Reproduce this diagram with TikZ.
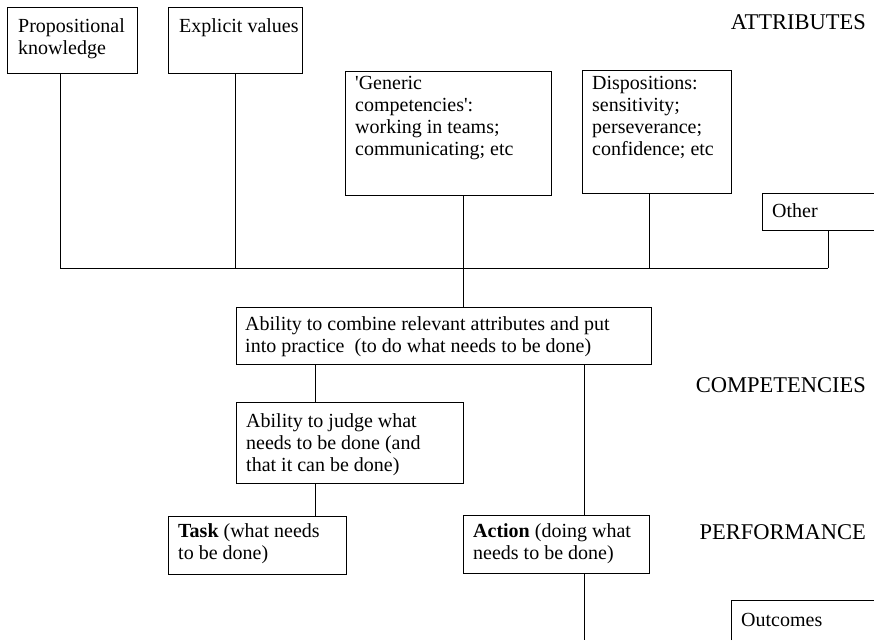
\documentclass[tikz,border=0pt]{standalone}
\usepackage{fontspec}
\setmainfont{Liberation Serif}
\newfontfamily\qfont{Liberation Serif}
\newcommand\sq{{\qfont\char39}}
\usetikzlibrary{fit}
\begin{document}
\begin{tikzpicture}[x=1pt,y=-1pt,
  box/.style={draw, line width=1pt, inner sep=0pt},
  txt/.style={anchor=north west, align=left, inner sep=0pt, font=\fontsize{20}{22}\selectfont},
  lab/.style={anchor=base east, inner sep=0pt, font=\fontsize{22.5}{24}\selectfont},
  conn/.style={line width=1pt}]
\useasboundingbox (0,0) rectangle (874,640);

% boxes
\node[box, fit={(7,7) (137,73)}] (prop) {};
\node[box, fit={(168,7) (302,73)}] (expl) {};
\node[box, fit={(345,71) (551,195)}] (gen) {};
\node[box, fit={(582,70) (731,193)}] (disp) {};
\node[box, fit={(236,307) (651,364)}] (comb) {};
\node[box, fit={(236,402) (463,483)}] (judge) {};
\node[box, fit={(168,516) (346,574)}] (task) {};
\node[box, fit={(463,515) (649,573)}] (action) {};
\draw[conn] (874,193) -| (762,230) -- (874,230);
\draw[conn] (731,640) |- (874,600);

% texts
\node[txt] (tprop) at (18,18) {Propositional\\knowledge};
\node[txt] (texpl) at (179,18) {Explicit values};
\node[txt] (tgen) at (355,76) {\sq Generic\\competencies\sq:\\working in teams;\\communicating; etc};
\node[txt] (tdisp) at (592,76) {Dispositions:\\sensitivity;\\perseverance;\\confidence; etc};
\node[txt] (other) at (772,203) {Other};
\node[txt] (tcomb) at (245,316) {Ability to combine relevant attributes and put\\into practice\ \ (to do what needs to be done)};
\node[txt] (tjudge) at (246,413) {Ability to judge what\\needs to be done (and\\that it can be done)};
\node[txt] (ttask) at (178,523) {\textbf{Task} (what needs\\to be done)};
\node[txt] (taction) at (473,523) {\textbf{Action} (doing what\\needs to be done)};
\node[txt] (outc) at (741,613) {Outcomes};

% labels
\node[lab] (lattr) at (866,29) {ATTRIBUTES};
\node[lab] (lcomp) at (866,392) {COMPETENCIES};
\node[lab] (lperf) at (866,539) {PERFORMANCE};

% connector coordinates
\coordinate (busL) at (60,268);
\coordinate (busE) at (235,268);
\coordinate (busG) at (463,268);
\coordinate (busD) at (649,268);
\coordinate (busR) at (828,268);
\coordinate (otherb) at (828,230);
\coordinate (cx) at (315,0);
\coordinate (ax) at (584,0);
\coordinate (actend) at (584,640);

\draw[conn] (busL) -- (busR);
\draw[conn] (prop.south -| busL) -- (busL);
\draw[conn] (expl.south -| busE) -- (busE);
\draw[conn] (gen.south -| busG) -- (comb.north -| busG);
\draw[conn] (disp.south -| busD) -- (busD);
\draw[conn] (otherb) -- (busR);
\draw[conn] (comb.south -| cx) -- (judge.north -| cx);
\draw[conn] (judge.south -| cx) -- (task.north -| cx);
\draw[conn] (comb.south -| ax) -- (action.north -| ax);
\draw[conn] (action.south -| ax) -- (actend);
\end{tikzpicture}
\end{document}
